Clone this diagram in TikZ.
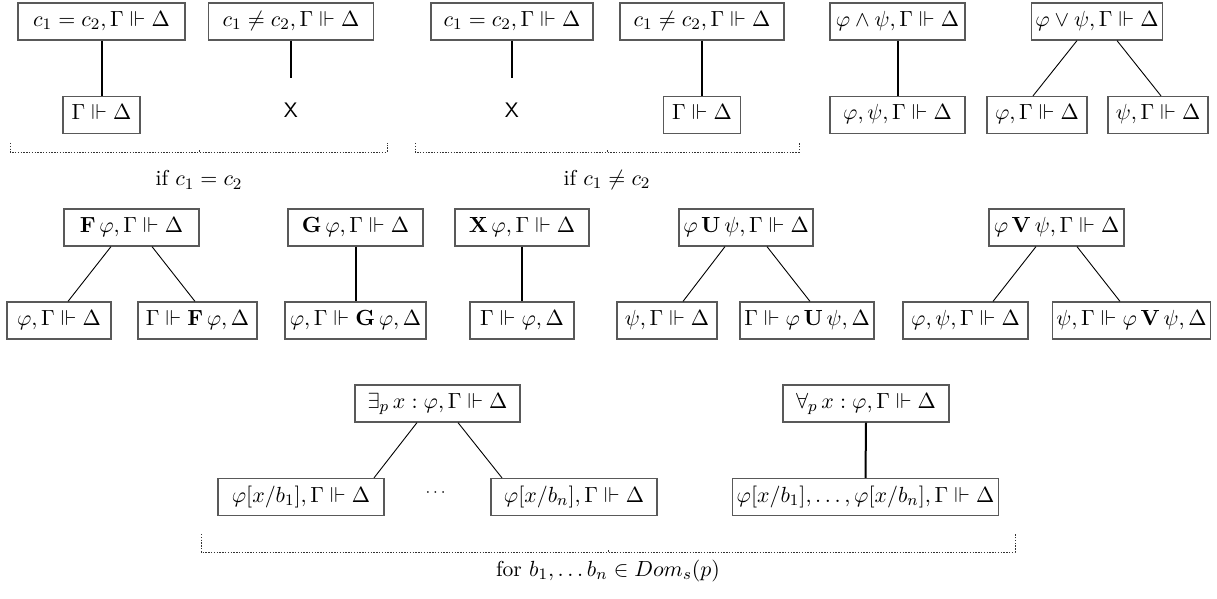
\documentclass[tikz,border=0pt]{standalone}
\usepackage{amsmath,amssymb}
\begin{document}
\begin{tikzpicture}[x=0.5pt,y=-0.5pt,
  font=\fontsize{10.8}{13}\selectfont,
  box/.style={draw=black!65, line width=0.6pt, minimum height=18.5pt,
    inner ysep=0pt, inner xsep=2pt, text height=7.6pt, text depth=2.6pt},
  bw/.style={minimum width=#1*0.5pt},
  thickedge/.style={line width=1pt},
  thinedge/.style={line width=0.45pt},
  bracket/.style={black!80, line width=0.45pt, dash pattern=on 0.7pt off 0.7pt},
  crossmark/.style={font=\fontsize{10.5}{12}\selectfont\sffamily}]
\useasboundingbox (0,0) rectangle (1217,599);

% ---------- row 1 ----------
\node[box,bw=167] (A)  at (101.5,21.5) {$c_1 = c_2, \Gamma \Vdash \Delta$};
\node[box,bw=77]  (A1) at (101.5,115)  {$\Gamma \Vdash \Delta$};
\draw[thickedge] (A.south) -- (A1.north);

\node[box,bw=165] (B) at (291,21.5) {$c_1 \neq c_2, \Gamma \Vdash \Delta$};
\coordinate (bx) at (291,78);
\draw[thickedge] (B.south) -- (bx);
\node[crossmark] (XB) at (291,110) {X};

\node[box,bw=162] (C) at (512,21.5) {$c_1 = c_2, \Gamma \Vdash \Delta$};
\coordinate (cx) at (512,78);
\draw[thickedge] (C.south) -- (cx);
\node[crossmark] (XC) at (512,110) {X};

\node[box,bw=164] (D)  at (702,21.5) {$c_1 \neq c_2, \Gamma \Vdash \Delta$};
\node[box,bw=77]  (D1) at (702,115)  {$\Gamma \Vdash \Delta$};
\draw[thickedge] (D.south) -- (D1.north);

\draw[bracket] (10,143) -- (10,152) -- (387,152) -- (387,143);
\draw[black!80, line width=0.5pt] (199,152) -- (199,150);
\node (L1) at (199,180) {if $c_1 = c_2$};
\draw[bracket] (415,143) -- (415,152) -- (799,152) -- (799,143);
\draw[black!80, line width=0.5pt] (607,152) -- (607,150);
\node (L2) at (607,180) {if $c_1 \neq c_2$};

\node[box,bw=135] (E)  at (897.5,21.5) {$\varphi \wedge \psi, \Gamma \Vdash \Delta$};
\node[box,bw=135] (E1) at (897.5,115)  {$\varphi, \psi, \Gamma \Vdash \Delta$};
\draw[thickedge] (E.south) -- (E1.north);

\node[box,bw=125] (F)  at (1097,21.5) {$\varphi \vee \psi, \Gamma \Vdash \Delta$};
\node[box,bw=100] (F1) at (1037,115)  {$\varphi, \Gamma \Vdash \Delta$};
\node[box,bw=100] (F2) at (1158,115)  {$\psi, \Gamma \Vdash \Delta$};
\draw[thinedge] ([xshift=-10pt]F.south) -- ([xshift=-2pt]F1.north);
\draw[thinedge] ([xshift=10pt]F.south) -- ([xshift=1.5pt]F2.north);

% ---------- row 2 ----------
\node[box,bw=135] (G)  at (131.5,227.5) {$\mathbf{F}\,\varphi, \Gamma \Vdash \Delta$};
\node[box,bw=104] (G1) at (59,320.5)    {$\varphi, \Gamma \Vdash \Delta$};
\node[box,bw=119] (G2) at (197.5,320.5) {$\Gamma \Vdash \mathbf{F}\,\varphi, \Delta$};
\draw[thinedge] ([xshift=-10.25pt]G.south) -- ([xshift=4.5pt]G1.north);
\draw[thinedge] ([xshift=10.25pt]G.south) -- ([xshift=-1.25pt]G2.north);

\node[box,bw=135] (H)  at (355.5,227.5) {$\mathbf{G}\,\varphi, \Gamma \Vdash \Delta$};
\node[box,bw=141] (H1) at (355.5,320.5) {$\varphi, \Gamma \Vdash \mathbf{G}\,\varphi, \Delta$};
\draw[thickedge] (H.south) -- (H1.north);

\node[box,bw=134] (I)  at (522,227.5) {$\mathbf{X}\,\varphi, \Gamma \Vdash \Delta$};
\node[box,bw=104] (I1) at (522,320.5) {$\Gamma \Vdash \varphi, \Delta$};
\draw[thickedge] (I.south) -- (I1.north);

\node[box,bw=134] (J)  at (746,227.5) {$\varphi\,\mathbf{U}\,\psi, \Gamma \Vdash \Delta$};
\node[box,bw=100] (J1) at (667,320.5) {$\psi, \Gamma \Vdash \Delta$};
\node[box,bw=134] (J2) at (807,320.5) {$\Gamma \Vdash \varphi\,\mathbf{U}\,\psi, \Delta$};
\draw[thinedge] ([xshift=-10.5pt]J.south) -- ([xshift=8pt]J1.north);
\draw[thinedge] ([xshift=10.5pt]J.south) -- ([xshift=1.5pt]J2.north);

\node[box,bw=135] (K)  at (1056.5,227.5) {$\varphi\,\mathbf{V}\,\psi, \Gamma \Vdash \Delta$};
\node[box,bw=125] (K1) at (965.5,320.5)  {$\varphi, \psi, \Gamma \Vdash \Delta$};
\node[box,bw=155] (K2) at (1131.5,320.5) {$\psi, \Gamma \Vdash \varphi\,\mathbf{V}\,\psi, \Delta$};
\draw[thinedge] ([xshift=-10.25pt]K.south) -- ([xshift=13.75pt]K1.north);
\draw[thinedge] ([xshift=10.25pt]K.south) -- ([xshift=-5.75pt]K2.north);

% ---------- row 3 ----------
\node[box,bw=165] (L)   at (437.5,403.5) {$\exists_p\, x : \varphi, \Gamma \Vdash \Delta$};
\node[box,bw=166] (Lb1) at (301,497) {$\varphi[x/b_1], \Gamma \Vdash \Delta$};
\node[box,bw=166] (Lbn) at (574,497) {$\varphi[x/b_n], \Gamma \Vdash \Delta$};
\draw[thinedge] ([xshift=-10.25pt]L.south) -- ([xshift=36.5pt]Lb1.north);
\draw[thinedge] ([xshift=10.25pt]L.south) -- ([xshift=-36pt]Lbn.north);
\node (dots) at (437,493) {\footnotesize$\cdots$};

\node[box,bw=166] (M)  at (866,403.5) {$\forall_p\, x : \varphi, \Gamma \Vdash \Delta$};
\node[box,bw=265] (M1) at (865.5,497) {$\varphi[x/b_1], \ldots, \varphi[x/b_n], \Gamma \Vdash \Delta$};
\draw[thickedge] (M.south) -- (M1.north);

\draw[bracket] (201,534) -- (201,552) -- (1015,552) -- (1015,534);
\draw[black!80, line width=0.5pt] (608,552) -- (608,550);
\node (L3) at (608,571) {for $b_1, \ldots b_n \in Dom_s(p)$};
\end{tikzpicture}
\end{document}
